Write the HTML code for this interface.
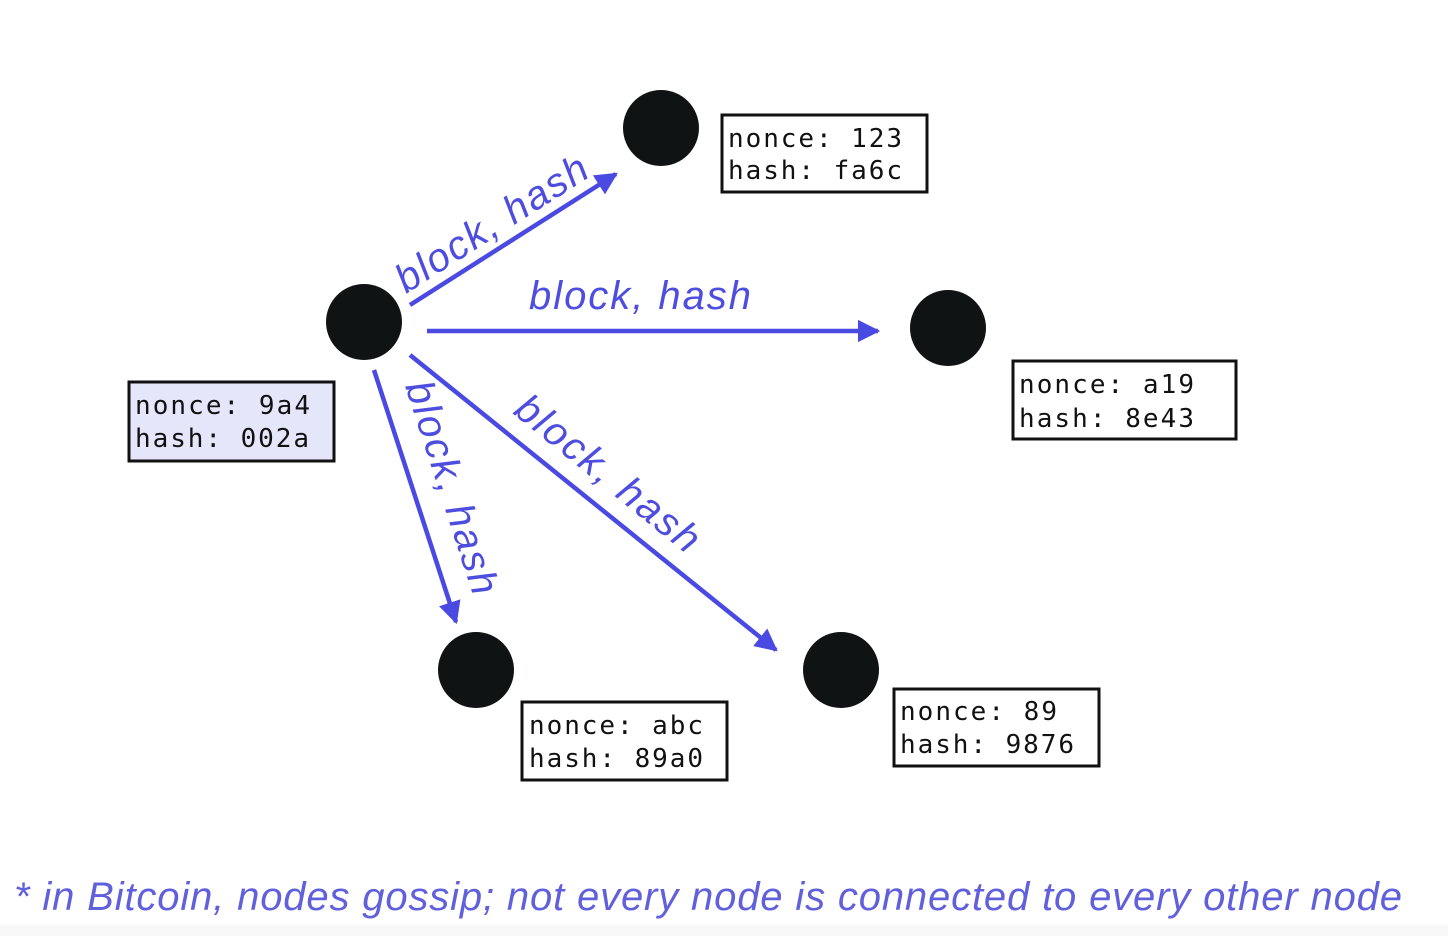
<!DOCTYPE html>
<html><head><meta charset="utf-8"><style>
html,body{margin:0;padding:0;background:#fff;}
svg{display:block}
.m{font-family:"DejaVu Sans Mono","Liberation Mono",monospace;font-size:26px;fill:#111;}
.l{font-family:"Liberation Sans",sans-serif;font-style:italic;font-size:40px;fill:#4d4ddf;}
</style></head><body>
<svg width="1448" height="936" viewBox="0 0 1448 936" xmlns="http://www.w3.org/2000/svg">
<defs><marker id="a" viewBox="0 0 10 10" refX="9" refY="5" markerWidth="5" markerHeight="5" orient="auto" markerUnits="strokeWidth"><path d="M0,0 L10,5 L0,10 z" fill="#4a4ae2"/></marker></defs>
<rect x="0" y="925" width="1448" height="11" fill="#f8f8f8"/>
<g fill="#0f1314">
<circle cx="364" cy="322" r="38"/><circle cx="661" cy="128" r="38"/><circle cx="948" cy="328" r="38"/><circle cx="476" cy="670" r="38"/><circle cx="841" cy="670" r="38"/>
</g>
<g stroke="#4a4ae2" stroke-width="4.5" fill="none">
<line x1="410" y1="305" x2="616" y2="174" marker-end="url(#a)"/>
<line x1="427" y1="331" x2="878" y2="331" marker-end="url(#a)"/>
<line x1="410" y1="355" x2="776" y2="650" marker-end="url(#a)"/>
<line x1="374" y1="370" x2="456" y2="622" marker-end="url(#a)"/>
</g>
<text class="l" transform="translate(406,294) rotate(-32.5)" textLength="220">block, hash</text>
<text class="l" x="529" y="309" textLength="222">block, hash</text>
<text class="l" transform="translate(512,413) rotate(39)" textLength="225">block, hash</text>
<text class="l" transform="translate(405,386) rotate(72)" textLength="222">block, hash</text>
<g stroke="#111" stroke-width="3">
<rect x="129" y="382" width="205" height="79" fill="#e6e6fa"/>
<rect x="722" y="115" width="205" height="77" fill="#fff"/>
<rect x="1013" y="361" width="223" height="78" fill="#fff"/>
<rect x="522" y="702" width="205" height="78" fill="#fff"/>
<rect x="894" y="689" width="205" height="77" fill="#fff"/>
</g>
<text class="m" x="135" y="414" textLength="175">nonce: 9a4</text>
<text class="m" x="135" y="447" textLength="174">hash: 002a</text>
<text class="m" x="728" y="147" textLength="174">nonce: 123</text>
<text class="m" x="728" y="179" textLength="174">hash: fa6c</text>
<text class="m" x="1019" y="393" textLength="175">nonce: a19</text>
<text class="m" x="1019" y="427" textLength="175">hash: 8e43</text>
<text class="m" x="529" y="734" textLength="174">nonce: abc</text>
<text class="m" x="529" y="767" textLength="174">hash: 89a0</text>
<text class="m" x="900" y="720" textLength="157">nonce: 89</text>
<text class="m" x="900" y="753" textLength="174">hash: 9876</text>
<text x="14" y="910" font-family="Liberation Sans,sans-serif" font-style="italic" font-size="40" fill="#6060dc" textLength="1388">* in Bitcoin, nodes gossip; not every node is connected to every other node</text>
</svg>
</body></html>
